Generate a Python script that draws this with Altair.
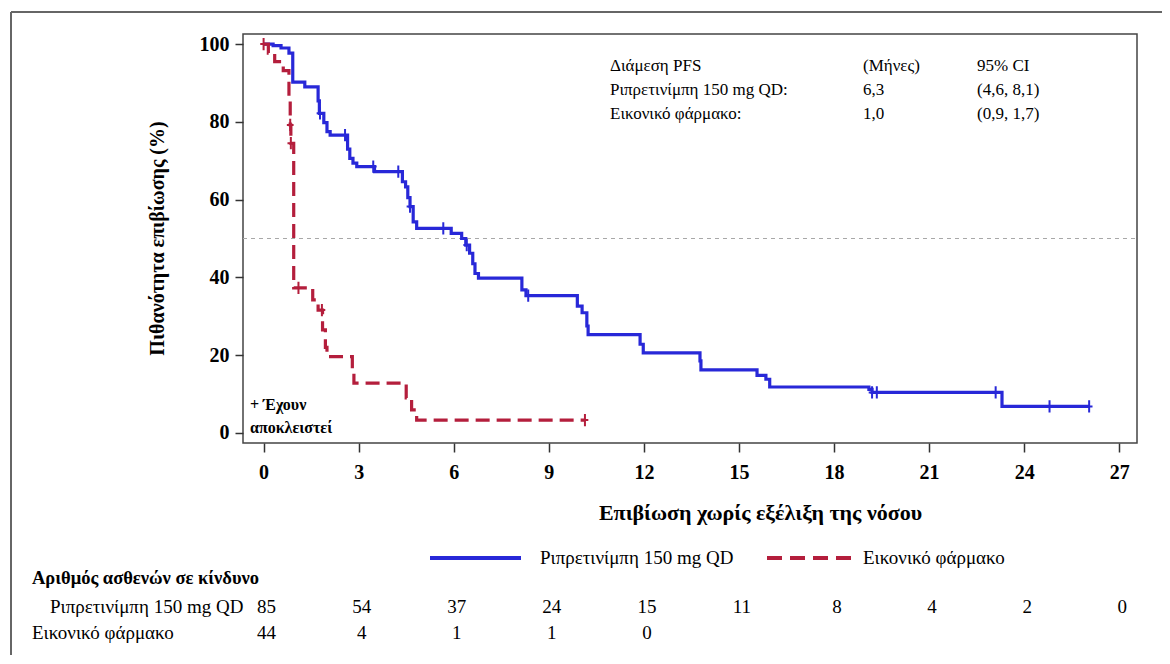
import altair as alt
import pandas as pd

# ---------------- data ----------------
blue_t = [0, 0.3, 0.55, 0.8, 0.92, 1.3, 1.72, 1.76, 1.9, 2.0, 2.1, 2.65, 2.72, 2.82, 2.94, 3.5,
          4.38, 4.48, 4.55, 4.62, 4.72, 4.83, 5.92, 6.25, 6.38, 6.5, 6.6, 6.67, 6.78,
          8.15, 8.28, 9.9, 10.05, 10.2, 10.24, 11.88, 11.98, 13.77, 13.8, 15.57, 15.85,
          15.97, 19.1, 19.2, 23.3, 26.05]
blue_s = [100, 99.6, 99.0, 97.7, 90.2, 89.0, 85.4, 82.2, 79.8, 77.5, 76.6, 73.0, 70.6, 69.4, 68.5, 67.2,
          64.6, 63.3, 60.5, 58.2, 54.3, 52.6, 51.3, 50.0, 48.3, 46.2, 43.5, 41.0, 39.8,
          36.8, 35.3, 32.6, 30.9, 27.5, 25.3, 22.8, 20.6, 18.5, 16.2, 14.8, 13.8,
          11.8, 11.2, 10.4, 6.8, 6.8]
blue_cens_t = [1.78, 2.57, 3.46, 4.25, 4.62, 5.67, 6.41, 8.35, 19.2, 19.35, 23.1, 24.8, 26.05]
blue_cens_s = [82.2, 76.6, 68.5, 67.2, 58.2, 52.6, 48.3, 35.3, 10.4, 10.4, 10.4, 6.8, 6.8]

red_t = [0, 0.15, 0.35, 0.62, 0.8, 0.84, 0.86, 0.95, 1.55, 1.72, 1.86, 1.95, 2.0, 2.8, 2.85,
         4.5, 4.67, 4.83, 10.14]
red_s = [100, 97.7, 95.5, 93.2, 86.0, 79.2, 74.5, 37.3, 34.2, 31.6, 26.5, 22.0, 19.6, 15.5, 12.8,
         9.0, 5.9, 3.3, 3.3]
red_cens_t = [0, 0.84, 0.86, 1.1, 1.84, 10.14]
red_cens_s = [100, 79.2, 74.5, 37.3, 31.6, 3.3]

series_names = ["Ριπρετινίμπη 150 mg QD", "Εικονικό φάρμακο"]
x_ticks = [0, 3, 6, 9, 12, 15, 18, 21, 24, 27]
y_ticks = [0, 20, 40, 60, 80, 100]

risk_months = [0, 3, 6, 9, 12, 15, 18, 21, 24, 27]
risk_blue = [85, 54, 37, 24, 15, 11, 8, 4, 2, 0]
risk_red = [44, 4, 1, 1, 0]

stats_col1 = ["Διάμεση PFS", "Ριπρετινίμπη 150 mg QD:", "Εικονικό φάρμακο:"]
stats_col2 = ["(Μήνες)", "6,3", "1,0"]
stats_col3 = ["95% CI", "(4,6, 8,1)", "(0,9, 1,7)"]
censor_note = ["+ Έχουν", "αποκλειστεί"]
risk_title = "Αριθμός ασθενών σε κίνδυνο"
x_title = "Επιβίωση χωρίς εξέλιξη της νόσου"
y_title = "Πιθανότητα επιβίωσης (%)"

# ---------------- styling ----------------
FONT = "Liberation Serif"
BLUE = "#2828d8"
RED = "#b41e3c"
W, H = 894, 409

xs = alt.Scale(domain=[-0.65, 27.56], nice=False, zero=False)
ys = alt.Scale(domain=[-2.6, 102.6], nice=False, zero=False)

blue_df = pd.DataFrame({"t": blue_t, "s": blue_s})
red_df = pd.DataFrame({"t": red_t, "s": red_s})
bc_df = pd.DataFrame({"t": blue_cens_t, "s": blue_cens_s})
rc_df = pd.DataFrame({"t": red_cens_t, "s": red_cens_s})

x_enc = alt.X("t:Q", scale=xs, axis=alt.Axis(
    values=x_ticks, title=x_title, grid=False, domain=False, tickSize=9, tickWidth=1.5,
    tickColor="#333", labelPadding=10, labelFont=FONT, labelFontSize=20, labelFontWeight="bold",
    labelColor="black", titleFont=FONT, titleFontSize=22, titleFontWeight="bold", titleColor="black",
    titleX=517, titleY=69, titleAlign="center", titleBaseline="middle"))
y_enc = alt.Y("s:Q", scale=ys, axis=alt.Axis(
    values=y_ticks, title=y_title, grid=False, domain=False, tickSize=8, tickWidth=1.5,
    tickColor="#333", labelPadding=6, labelFont=FONT, labelFontSize=20, labelFontWeight="bold",
    labelColor="black", titleFont=FONT, titleFontSize=20, titleFontWeight="bold", titleColor="black",
    titleX=-86, titleY=204, titleAngle=-90, titleAlign="center", titleBaseline="middle"))

one = alt.Data(values=[{"a": 1}])

ref50 = alt.Chart(one).mark_rule(color="#a8a8a8", strokeWidth=1, strokeDash=[4, 4]).encode(
    y=alt.Y("v:Q", scale=ys), x=alt.value(0), x2=alt.value(W)
).transform_calculate(v="50")

blue_line = alt.Chart(blue_df).mark_line(color=BLUE, strokeWidth=3.2, interpolate="step-after").encode(
    x=x_enc, y=y_enc)
red_line = alt.Chart(red_df).mark_line(color=RED, strokeWidth=3.2, interpolate="step-after",
                                       strokeDash=[14, 7]).encode(
    x=alt.X("t:Q", scale=xs), y=alt.Y("s:Q", scale=ys))

plus = "M-0.55,0L0.55,0M0,-1L0,1"
blue_c = alt.Chart(bc_df).mark_point(shape=plus, size=150, filled=False, color=BLUE,
                                     strokeWidth=2, opacity=1).encode(
    x=alt.X("t:Q", scale=xs), y=alt.Y("s:Q", scale=ys))
red_c = alt.Chart(rc_df).mark_point(shape=plus, size=150, filled=False, color=RED,
                                    strokeWidth=2, opacity=1).encode(
    x=alt.X("t:Q", scale=xs), y=alt.Y("s:Q", scale=ys))

def txt(lines, x, y, size=17, weight="normal", align="left", lh=24):
    return alt.Chart(one).mark_text(
        text=lines, font=FONT, fontSize=size, fontWeight=weight, align=align,
        baseline="middle", lineHeight=lh, color="black").encode(x=alt.value(x), y=alt.value(y))

stats = txt(stats_col1, 367, 32) + txt(stats_col2, 620, 32) + txt(stats_col3, 734, 32)
note = txt(censor_note, 7, 371, size=16, weight="bold", lh=23)

# legend (drawn manually)
leg_blue = alt.Chart(one).mark_rule(color=BLUE, strokeWidth=4).encode(
    x=alt.value(187), x2=alt.value(278), y=alt.value(524))
leg_red = alt.Chart(one).mark_rule(color=RED, strokeWidth=4, strokeDash=[15, 8]).encode(
    x=alt.value(524), x2=alt.value(612), y=alt.value(524))
leg_txt = txt(series_names[0], 297, 524, size=19) + txt(series_names[1], 620, 524, size=19)

# risk table
risk_head = txt(risk_title, -211, 544, size=18.5, weight="bold")
risk_lab1 = txt(series_names[0], -193, 573, size=19)
risk_lab2 = txt(series_names[1], -211, 599, size=19)
rb_df = pd.DataFrame({"t": risk_months, "n": risk_blue})
rr_df = pd.DataFrame({"t": risk_months[:len(risk_red)], "n": risk_red})
risk_row1 = alt.Chart(rb_df).mark_text(font=FONT, fontSize=19, color="black", dx=3).encode(
    x=alt.X("t:Q", scale=xs), y=alt.value(573), text="n:Q")
risk_row2 = alt.Chart(rr_df).mark_text(font=FONT, fontSize=19, color="black", dx=3).encode(
    x=alt.X("t:Q", scale=xs), y=alt.value(599), text="n:Q")

# outer figure frame
frame_left = alt.Chart(one).mark_rule(color="#666", strokeWidth=2).encode(
    x=alt.value(-232), y=alt.value(-22), y2=alt.value(640))
frame_top = alt.Chart(one).mark_rule(color="#666", strokeWidth=2).encode(
    x=alt.value(-232), x2=alt.value(W + 40), y=alt.value(-22))

chart = alt.layer(
    ref50, blue_line, red_line, blue_c, red_c, stats, note,
    leg_blue, leg_red, leg_txt, risk_head, risk_lab1, risk_lab2, risk_row1, risk_row2,
    frame_left, frame_top
).properties(
    width=W, height=H,
    autosize=alt.AutoSizeParams(type="none"),
    padding={"left": 235, "top": 26, "right": 25, "bottom": 212},
    background="white",
).configure_view(stroke="#444", strokeWidth=1.5)

chart.save("out.html", embed_options={"renderer": "svg", "actions": False})
